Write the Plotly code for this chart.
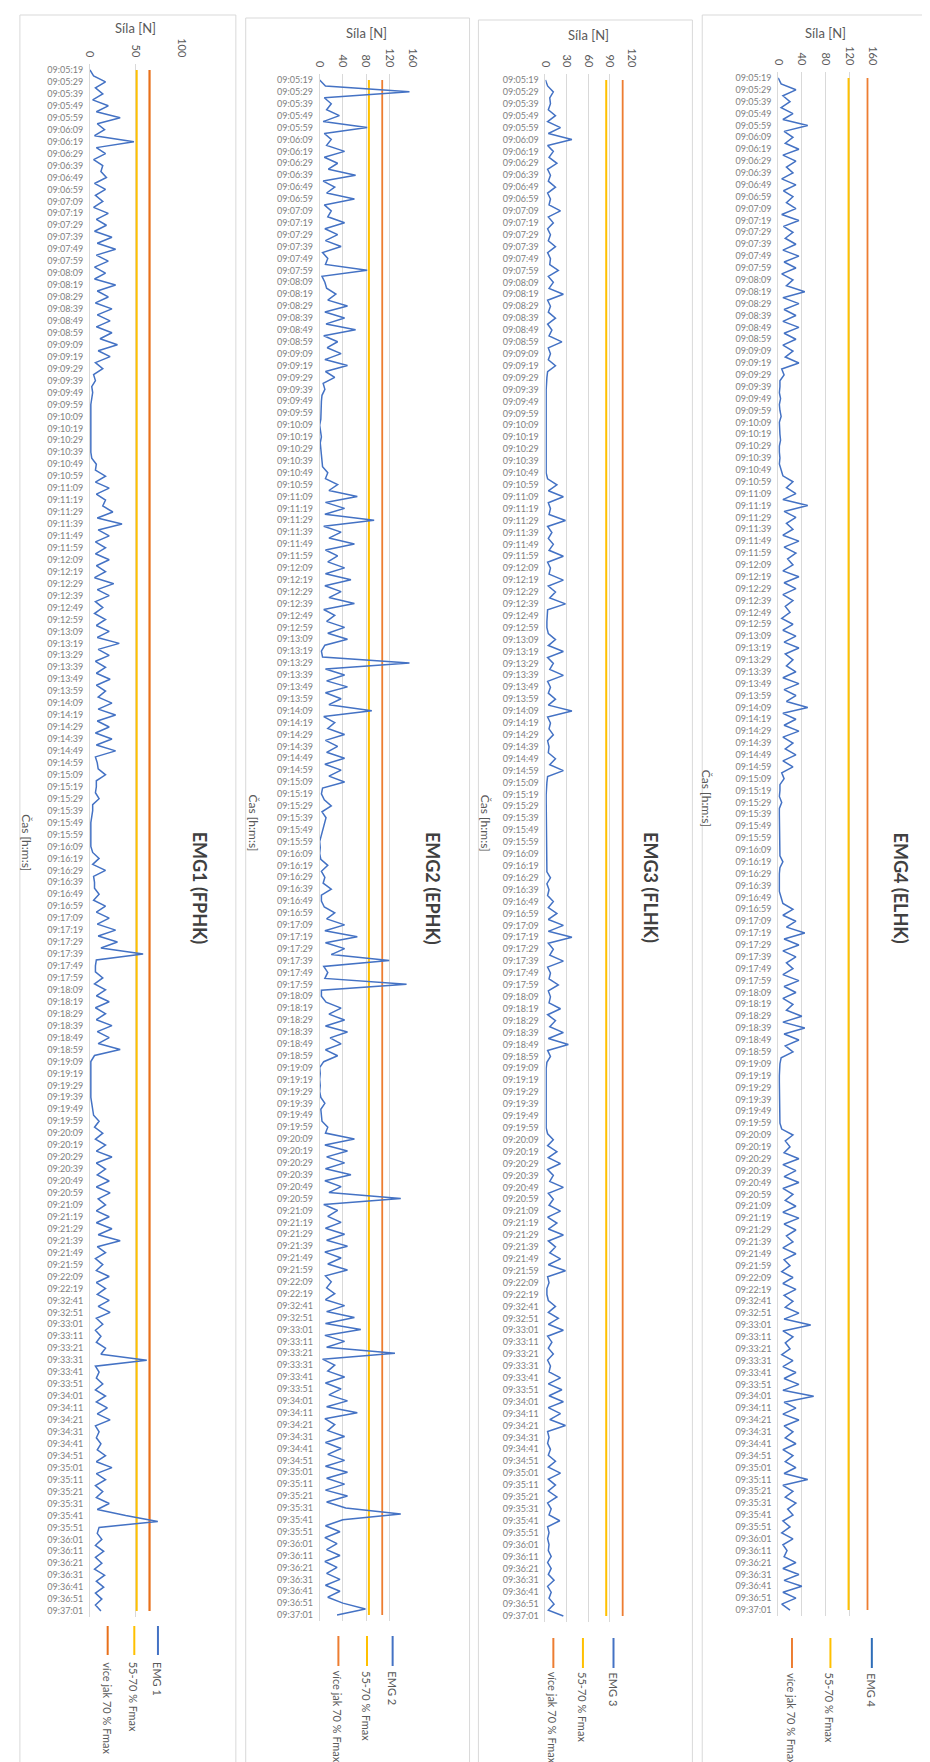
import plotly.graph_objects as go

W, H = 930, 1762

def hms(t):
    return "%02d:%02d:%02d" % (t // 3600, (t % 3600) // 60, t % 60)

# categories: samples every 5 s (tick labels every 10 s)
seg1_start = 9 * 3600 + 5 * 60 + 19
seg2_start = 9 * 3600 + 32 * 60 + 41
times = [hms(seg1_start + 5 * i) for i in range(206)] + [hms(seg2_start + 5 * j) for j in range(53)]
tick_times = times[::2]

# ---- series values (N); each row = one minute, pairs = (label, +5 s) ----
emg1 = [
    0, 4, 17, 6, 14, 3, 20, 7, 33, 8,
    16, 5, 48, 7, 17, 4, 14, 12, 18, 5, 17, 6,
    14, 4, 20, 7, 18, 5, 24, 8, 28, 7, 20, 5,
    17, 5, 28, 8, 20, 6, 24, 8, 22, 7, 24, 11,
    30, 9, 22, 6, 14, 4, 6, 2, 3, 2, 1, 1,
    1, 1, 1, 1, 1, 1, 1, 2, 7, 6, 17, 6,
    21, 7, 17, 14, 25, 8, 35, 9, 21, 6, 17, 6,
    21, 7, 17, 5, 26, 8, 21, 6, 14, 5, 17, 7,
    21, 8, 32, 9, 21, 6, 17, 7, 22, 7, 17, 9,
    24, 9, 28, 8, 21, 6, 24, 7, 28, 6, 8, 9,
    17, 7, 7, 6, 10, 3, 3, 2, 1, 1, 1, 1,
    1, 3, 10, 3, 17, 4, 5, 5, 10, 4, 17, 7,
    21, 8, 28, 9, 30, 12, 58, 7, 6, 6, 14, 5,
    17, 7, 21, 6, 17, 7, 24, 8, 21, 9, 33, 5,
    1, 1, 1, 1, 1, 1, 1, 2, 3, 4, 10, 5,
    14, 6, 17, 7, 24, 7, 17, 8, 21, 7, 22, 9,
    17, 7, 21, 7, 24, 9, 33, 8, 17, 6, 14, 7,
    21, 7, 17, 8,
    21, 9, 22, 7,
    14, 6, 12, 7, 17, 12, 62, 6, 10, 7, 14, 6,
    17, 7, 19, 8, 22, 6, 10, 7, 12, 8, 17, 7,
    24, 7, 17, 6, 14, 7, 21, 8, 39, 74, 10, 8,
    13, 6, 15, 6, 13, 5, 16, 7, 15, 6, 13, 6,
    12,
]

emg2 = [
    0, 10, 155, 8, 20, 12, 34, 6, 82, 8,
    20, 12, 43, 8, 31, 15, 62, 6, 26, 12, 60, 8,
    20, 14, 43, 9, 31, 10, 37, 5, 14, 10, 82, 4,
    9, 12, 28, 14, 48, 9, 43, 11, 62, 7, 31, 13,
    37, 9, 48, 10, 26, 6, 9, 4, 3, 3, 3, 2,
    0, 2, 3, 1, 2, 3, 3, 5, 14, 10, 31, 16,
    65, 10, 43, 9, 94, 7, 37, 16, 60, 10, 31, 14,
    43, 10, 54, 9, 37, 16, 60, 7, 26, 12, 43, 14,
    48, 9, 3, 5, 155, 10, 43, 12, 48, 10, 37, 16,
    90, 7, 26, 14, 43, 10, 31, 12, 43, 9, 37, 16,
    43, 5, 3, 8, 20, 4, 11, 8, 6, 2, 0, 1,
    0, 2, 14, 3, 9, 6, 20, 3, 3, 8, 26, 12,
    43, 9, 65, 10, 43, 20, 120, 7, 14, 9, 150, 3,
    3, 11, 37, 16, 43, 10, 48, 18, 37, 10, 31, 7,
    0, 1, 0, 1, 0, 2, 9, 2, 3, 4, 14, 10,
    60, 9, 48, 12, 43, 10, 54, 9, 37, 16, 140, 7,
    31, 14, 37, 10, 43, 12, 48, 9, 37, 14, 48, 10,
    20, 12, 26, 10,
    43, 12, 60, 10,
    71, 9, 43, 12, 130, 5, 26, 14, 43, 10, 37, 16,
    48, 12, 65, 9, 26, 14, 43, 10, 37, 14, 43, 10,
    48, 12, 43, 10, 48, 12, 45, 140, 40, 10, 35, 9,
    30, 12, 35, 9, 30, 12, 35, 10, 35, 14, 40, 79,
    30,
]

emg3 = [
    0, 3, 11, 6, 7, 4, 14, 3, 21, 4,
    37, 3, 11, 5, 16, 3, 7, 4, 14, 3, 7, 5,
    21, 4, 11, 3, 7, 4, 14, 3, 7, 6, 18, 4,
    11, 5, 25, 3, 7, 4, 14, 3, 9, 5, 23, 4,
    7, 4, 14, 3, 2, 1, 1, 1, 1, 1, 1, 1,
    1, 1, 1, 1, 1, 1, 1, 1, 1, 3, 16, 4,
    25, 4, 7, 5, 28, 3, 9, 4, 11, 5, 25, 3,
    7, 5, 25, 4, 14, 6, 28, 3, 2, 2, 2, 4,
    14, 4, 25, 3, 11, 6, 25, 3, 7, 4, 14, 4,
    37, 3, 7, 5, 11, 3, 5, 4, 14, 6, 25, 3,
    2, 1, 1, 1, 1, 1, 1, 1, 1, 1, 1, 1,
    1, 1, 1, 2, 7, 2, 5, 3, 11, 4, 16, 4,
    25, 4, 37, 4, 11, 6, 25, 3, 7, 5, 18, 4,
    7, 5, 21, 3, 14, 6, 25, 4, 32, 3, 7, 2,
    1, 1, 1, 1, 1, 1, 1, 1, 1, 1, 1, 3,
    11, 3, 16, 4, 21, 3, 11, 6, 25, 4, 11, 5,
    21, 3, 16, 4, 25, 4, 14, 6, 21, 4, 28, 3,
    5, 2, 2, 4,
    14, 4, 18, 4,
    25, 3, 9, 4, 11, 3, 7, 5, 21, 4, 23, 5,
    25, 4, 21, 6, 28, 3, 5, 3, 7, 4, 14, 4,
    21, 4, 14, 4, 16, 3, 8, 5, 20, 3, 5, 3,
    5, 4, 8, 3, 8, 4, 12, 3, 8, 5, 12, 4,
    25,
]

emg4 = [
    0, 5, 30, 8, 20, 5, 25, 8, 50, 10,
    25, 12, 35, 8, 30, 14, 25, 6, 30, 9, 25, 14,
    30, 6, 35, 9, 25, 12, 30, 8, 35, 10, 30, 6,
    25, 14, 45, 8, 35, 10, 30, 8, 35, 10, 30, 8,
    25, 12, 35, 6, 10, 3, 3, 2, 4, 2, 3, 5,
    2, 2, 3, 4, 2, 2, 3, 2, 5, 8, 25, 14,
    30, 8, 50, 10, 30, 14, 25, 8, 35, 10, 30, 16,
    25, 8, 35, 10, 30, 8, 25, 12, 20, 6, 25, 8,
    30, 10, 35, 12, 25, 14, 30, 8, 35, 10, 30, 14,
    50, 8, 30, 10, 35, 8, 25, 12, 30, 8, 25, 6,
    10, 3, 3, 2, 6, 2, 2, 2, 2, 2, 2, 2,
    2, 3, 8, 3, 2, 2, 3, 2, 5, 8, 25, 8,
    30, 14, 45, 10, 35, 8, 30, 14, 25, 8, 35, 10,
    30, 8, 25, 14, 40, 8, 45, 10, 35, 12, 25, 5,
    3, 2, 2, 2, 2, 2, 2, 2, 2, 2, 3, 6,
    25, 12, 20, 10, 35, 8, 30, 10, 35, 8, 25, 12,
    30, 8, 35, 10, 30, 14, 25, 8, 30, 10, 20, 6,
    25, 8, 30, 10,
    25, 12, 35, 10,
    55, 8, 25, 12, 20, 6, 25, 8, 30, 10, 35, 8,
    60, 10, 30, 8, 35, 10, 25, 12, 30, 8, 25, 12,
    30, 10, 50, 8, 25, 12, 30, 16, 25, 8, 20, 6,
    25, 8, 15, 10, 30, 8, 35, 10, 40, 8, 30, 6,
    20,
]

series_names = ["EMG 1", "EMG 2", "EMG 3", "EMG 4"]
titles = ["EMG1 (FPHK)", "EMG2 (EPHK)", "EMG3 (FLHK)", "EMG4 (ELHK)"]
x_max = [100, 160, 120, 160]
x_step = [50, 40, 30, 40]
thr55 = [51, 85, 85, 119]     # 55-70 % Fmax
thr70 = [65, 108, 108, 151]   # více jak 70 % Fmax
series = [emg1, emg2, emg3, emg4]

# ---- layout geometry (pixels) ----
geo = [
    dict(x0=77, x1=170, yt=56, yb=1609, box=(6, 7, 225), sila_y=20, cas=(13, 835), title_x=189,
         leg=(146, 122, 95), leg_y=(1618, 1647, 1652)),
    dict(x0=310, x1=404, yt=66, yb=1613, box=(235, 10, 462), sila_y=25, cas=(243, 815), title_x=425,
         leg=(384, 358, 329), leg_y=(1628, 1658, 1661)),
    dict(x0=539, x1=626, yt=66, yb=1614, box=(471, 12, 688), sila_y=27, cas=(479, 815), title_x=646,
         leg=(608, 577, 547), leg_y=(1630, 1660, 1662)),
    dict(x0=775, x1=871, yt=64, yb=1608, box=(698, 7, 926), sila_y=25, cas=(703, 790), title_x=900,
         leg=(870, 828, 789), leg_y=(1630, 1660, 1663)),
]

BLUE = "#4472C4"
YELLOW = "#FFC000"
ORANGE = "#ED7D31"
FONT = "Lato"

def px(x):
    return x / W

def py(y):
    return 1 - y / H

fig = go.Figure()
shapes = []
annotations = []
n = len(times)

for i in range(4):
    g = geo[i]
    xa = "x" if i == 0 else "x%d" % (i + 1)
    ya = "y" if i == 0 else "y%d" % (i + 1)
    lw70 = 2.2 if i == 0 else 1.8
    c70 = "#E8701A" if i == 0 else ORANGE
    fig.add_trace(go.Scatter(x=[thr55[i]] * n, y=times, mode="lines", line=dict(color=YELLOW, width=2),
                             xaxis=xa, yaxis=ya, showlegend=False, hoverinfo="skip"))
    fig.add_trace(go.Scatter(x=[thr70[i]] * n, y=times, mode="lines", line=dict(color=c70, width=lw70),
                             xaxis=xa, yaxis=ya, showlegend=False, hoverinfo="skip"))
    fig.add_trace(go.Scatter(x=series[i], y=times, mode="lines", line=dict(color=BLUE, width=1.5),
                             xaxis=xa, yaxis=ya, showlegend=False, name=series_names[i]))

    xkey = "xaxis" if i == 0 else "xaxis%d" % (i + 1)
    ykey = "yaxis" if i == 0 else "yaxis%d" % (i + 1)
    fig.update_layout(**{
        xkey: dict(domain=[px(g["x0"]), px(g["x1"])], anchor=ya, side="top",
                   range=[0, x_max[i]], tickmode="array",
                   tickvals=list(range(0, x_max[i] + 1, x_step[i])),
                   tickangle=90, ticks="", showgrid=True, gridcolor="#D9D9D9", gridwidth=1,
                   zeroline=False, showline=False, ticklabelstandoff=4,
                   tickfont=dict(family=FONT, size=11, color="#595959")),
        ykey: dict(domain=[py(g["yb"]), py(g["yt"])], anchor=xa, type="category",
                   categoryorder="array", categoryarray=times,
                   range=[n, -1], tickmode="array", tickvals=tick_times, ticktext=tick_times,
                   ticks="", showgrid=False, showline=True, linecolor="#D9D9D9", linewidth=1,
                   zeroline=False, ticklabelstandoff=4,
                   tickfont=dict(family=FONT, size=9, color="#808080")),
    })

    # panel border
    bx0, by0, bx1 = g["box"]
    shapes.append(dict(type="rect", xref="paper", yref="paper", x0=px(bx0), x1=px(bx1),
                       y0=py(H + 10), y1=py(by0), line=dict(color="#D9D9D9", width=1)))

    # axis titles
    annotations.append(dict(text="Síla [N]", xref="paper", yref="paper",
                            x=px((g["x0"] + g["x1"]) / 2), y=py(g["sila_y"]),
                            xanchor="center", yanchor="middle", showarrow=False,
                            font=dict(family=FONT, size=13, color="#595959")))
    annotations.append(dict(text="Čas [h:m:s]", xref="paper", yref="paper",
                            x=px(g["cas"][0]), y=py(g["cas"][1]), textangle=90,
                            xanchor="center", yanchor="middle", showarrow=False,
                            font=dict(family=FONT, size=12, color="#595959")))
    # chart title
    annotations.append(dict(text="<b>%s</b>" % titles[i], xref="paper", yref="paper",
                            x=px(g["title_x"]), y=py(880), textangle=90,
                            xanchor="center", yanchor="middle", showarrow=False,
                            font=dict(family=FONT, size=18, color="#404040")))

    # legend (rotated)
    ly0, ly1, lt = g["leg_y"]
    leg_items = [(series_names[i], BLUE if i < 3 else "#2E6DB8"), ("55-70 % Fmax", YELLOW),
                 ("více jak 70 % Fmax", c70)]
    for (label, col), lx in zip(leg_items, g["leg"]):
        shapes.append(dict(type="line", xref="paper", yref="paper", x0=px(lx), x1=px(lx),
                           y0=py(ly1), y1=py(ly0), line=dict(color=col, width=2)))
        annotations.append(dict(text=label, xref="paper", yref="paper", x=px(lx), y=py(lt),
                                textangle=90, xanchor="center", yanchor="top", showarrow=False,
                                font=dict(family=FONT, size=11, color="#595959")))

fig.update_layout(width=W, height=H, margin=dict(l=0, r=0, t=0, b=0),
                  paper_bgcolor="white", plot_bgcolor="white",
                  shapes=shapes, annotations=annotations, showlegend=False)

fig.write_html("out.html")
